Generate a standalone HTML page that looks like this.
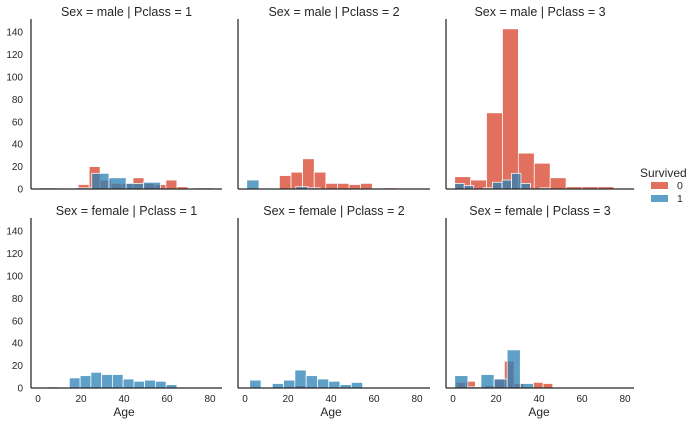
<!DOCTYPE html>
<html><head><meta charset="utf-8"><style>
html,body{margin:0;padding:0;background:#fff;}
svg{display:block;font-family:"Liberation Sans",Arial,sans-serif;}
</style></head><body>
<svg id="chart" width="698" height="424" viewBox="0 0 698 424"></svg>
<script>
// ---- data (ages: bin start, bin width, counts) ----
const panelTitles = ["Sex = male | Pclass = 1","Sex = male | Pclass = 2","Sex = male | Pclass = 3","Sex = female | Pclass = 1","Sex = female | Pclass = 2","Sex = female | Pclass = 3"];
const diedStart = [18.7, 16.0, 0.8, 4.6, 2.2, 1.4];
const diedWidth = [5.1, 5.4, 7.4, 5.0, 5.25, 4.5];
const diedCounts = [
  [4,20,8,5,5,10,5,4,8,2],
  [12,15,27,15,5,5,4,5,0,1],
  [11,8,68,143,32,23,10,2,2,2],
  [0,0,0,0,0,0,0,0,0,0],
  [0,0,0,1,2,1,0,0,0,0],
  [5,6,1,2,8,24,4,0,5,4]
];
const survStart = [1.0, 0.8, 0.8, 4.6, 2.2, 0.8];
const survWidth = [8.0, 5.7, 4.4, 5.0, 5.25, 6.1];
const survCounts = [
  [1,0,1,14,10,5,6,0,0,1],
  [8,0,0,0,2,1,0,0,0,0],
  [5,3,0,1,6,8,14,5,0,1,0,0],
  [1,0,9,11,14,12,12,8,6,7,6,3],
  [7,0,4,7,16,11,8,6,3,5],
  [11,1,12,8,34,4,0,0,0,0]
];
const yTicks = [0,20,40,60,80,100,120,140];
const xTicks = [0,20,40,60,80];
const legendLabels = ["0","1"];

// ---- layout ----
const NS = "http://www.w3.org/2000/svg";
const svg = document.getElementById("chart");
const panelLeft = [31,238,446];
const panelRight = [222,430,634];
const rowBase = [189,388];
const rowTop = [31,230];
const pxPerYear = 2.15, pxPerCount = 1.12;
function mk(tag, attrs, parent){const e=document.createElementNS(NS,tag);for(const k in attrs)e.setAttribute(k,attrs[k]);(parent||svg).appendChild(e);return e;}
function xScale(col, age){return panelLeft[col]+7+age*pxPerYear;}
function yScale(row, c){return rowBase[row]-c*pxPerCount;}

for(let p=0;p<6;p++){
  const row=Math.floor(p/3), col=p%3;
  const g=mk("g",{});
  
  
  const t=mk("text",{x:(panelLeft[col]+panelRight[col])/2,y:rowTop[row]-15,"text-anchor":"middle","font-size":"12.5",fill:"#262626"},g);
  t.textContent=panelTitles[p];
  
  
  const series=[[diedStart[p],diedWidth[p],diedCounts[p],"rgb(215,64,42)","died"],[survStart[p],survWidth[p],survCounts[p],"rgb(42,128,182)","survived"]];
  for(const [st,w,cnts,color,nm] of series){
    cnts.forEach((c,i)=>{
      if(c<=0)return;
      const x0=xScale(col,st+i*w), x1=xScale(col,st+(i+1)*w);
      const r=mk("rect",{x:x0,y:yScale(row,c),width:x1-x0,height:c*pxPerCount,fill:color,"fill-opacity":"0.75",stroke:"#fff","stroke-width":"0.75"},g);
      
      
    });
  }
  // axes
  const ya=mk("line",{x1:panelLeft[col],y1:rowTop[row]-12,x2:panelLeft[col],y2:rowBase[row],stroke:"#262626","stroke-width":"1.25"},g);
  
  
  const xa=mk("line",{x1:panelLeft[col],y1:rowBase[row],x2:panelRight[col],y2:rowBase[row],stroke:"#262626","stroke-width":"1.25"},g);
  
  
  if(col===0){
    yTicks.forEach(v=>{
      const tt=mk("text",{x:panelLeft[col]-8,y:yScale(row,v)+3.5,"text-anchor":"end","font-size":"10",fill:"#262626"},g);
      tt.textContent=v;
      
      
    });
  }
  if(row===1){
    xTicks.forEach(v=>{
      const tt=mk("text",{x:xScale(col,v),y:rowBase[row]+14,"text-anchor":"middle","font-size":"10",fill:"#262626"},g);
      tt.textContent=v;
      
      
    });
    const xl=mk("text",{x:xScale(col,40),y:rowBase[row]+28,"text-anchor":"middle","font-size":"12",fill:"#262626"},g);
    xl.textContent="Age";
    
    
  }
}
// legend
const lg=mk("g",{});


const lt=mk("text",{x:640,y:177,"font-size":"12",fill:"#262626"},lg);
lt.textContent="Survived";


const legColors=["rgb(215,64,42)","rgb(42,128,182)"];
legendLabels.forEach((lab,i)=>{
  const sw=mk("rect",{x:651,y:182+i*13,width:17,height:7,fill:legColors[i],"fill-opacity":"0.75"},lg);
  
  
  const tx=mk("text",{x:677,y:189+i*13,"font-size":"10.5",fill:"#262626"},lg);
  tx.textContent=lab;
  
  
});
</script>
</body></html>
